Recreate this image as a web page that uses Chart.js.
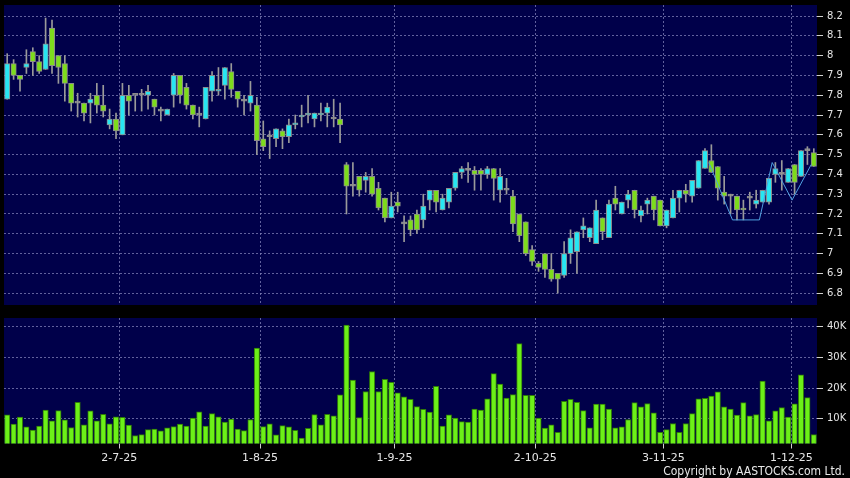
<!DOCTYPE html>
<html>
<head>
<meta charset="utf-8">
<script src="https://cdn.jsdelivr.net/npm/chart.js@4.4.1/dist/chart.umd.min.js"></script>
<style>
  html, body { margin: 0; padding: 0; background: #000; }
  #wrap { position: relative; width: 850px; height: 478px; overflow: hidden; background: #000; }
  #priceBox { position: absolute; left: 0; top: 0; width: 850px; height: 310px; }
  #volBox { position: absolute; left: 0; top: 310px; width: 850px; height: 156px; }
  #copy { position: absolute; right: 5px; top: 464px; font: 12px "Liberation Sans Narrow", "DejaVu Sans Condensed", sans-serif; color: #e8e8e8; }
</style>
</head>
<body>
<div id="wrap">
  <div id="priceBox"><canvas id="priceChart"></canvas></div>
  <div id="volBox"><canvas id="volChart"></canvas></div>
  <div id="copy">Copyright by AASTOCKS.com Ltd.</div>
</div>
<script>
// trading days, 5 Jun 2025 - 4 Dec 2025
const dates = [
  '5-6-25','6-6-25','9-6-25','10-6-25','11-6-25','12-6-25','13-6-25','16-6-25','17-6-25','18-6-25',
  '19-6-25','20-6-25','23-6-25','24-6-25','25-6-25','26-6-25','27-6-25','30-6-25',
  '2-7-25','3-7-25','4-7-25','7-7-25','8-7-25','9-7-25','10-7-25','11-7-25','14-7-25','15-7-25',
  '16-7-25','17-7-25','18-7-25','21-7-25','22-7-25','23-7-25','24-7-25','25-7-25','28-7-25','29-7-25',
  '30-7-25','31-7-25',
  '1-8-25','4-8-25','5-8-25','6-8-25','7-8-25','8-8-25','11-8-25','12-8-25','13-8-25','14-8-25',
  '15-8-25','18-8-25','19-8-25','20-8-25','21-8-25','22-8-25','25-8-25','26-8-25','27-8-25','28-8-25',
  '29-8-25',
  '1-9-25','2-9-25','3-9-25','4-9-25','5-9-25','8-9-25','9-9-25','10-9-25','11-9-25','12-9-25',
  '15-9-25','16-9-25','17-9-25','18-9-25','19-9-25','22-9-25','23-9-25','24-9-25','25-9-25','26-9-25',
  '29-9-25','30-9-25',
  '2-10-25','3-10-25','6-10-25','8-10-25','9-10-25','10-10-25','13-10-25','14-10-25','15-10-25','16-10-25',
  '17-10-25','20-10-25','21-10-25','22-10-25','23-10-25','24-10-25','27-10-25','28-10-25','30-10-25','31-10-25',
  '3-11-25','4-11-25','5-11-25','6-11-25','7-11-25','10-11-25','11-11-25','12-11-25','13-11-25','14-11-25',
  '17-11-25','18-11-25','19-11-25','20-11-25','21-11-25','24-11-25','25-11-25','26-11-25','27-11-25','28-11-25',
  '1-12-25','2-12-25','3-12-25','4-12-25'
];

const open = [
  7.78,7.96,7.90,7.94,8.02,7.97,7.93,8.14,8.00,7.96,
  7.86,7.76,7.76,7.76,7.80,7.75,7.65,7.68,7.60,7.80,
  7.80,7.80,7.80,7.78,7.72,7.70,7.80,7.90,7.84,7.75,
  7.70,7.68,7.82,7.82,7.85,7.92,7.82,7.77,7.76,7.75,
  7.58,7.59,7.58,7.62,7.59,7.65,7.69,7.70,7.68,7.70,
  7.71,7.68,7.68,7.45,7.34,7.39,7.37,7.39,7.33,7.28,
  7.18,7.26,7.15,7.17,7.20,7.17,7.27,7.32,7.22,7.26,
  7.33,7.41,7.42,7.42,7.42,7.40,7.43,7.32,7.32,7.29,
  7.20,7.16,7.02,6.95,7.00,6.92,6.90,6.89,7.00,7.01,
  7.12,7.08,7.05,7.18,7.08,7.28,7.20,7.27,7.32,7.19,
  7.25,7.29,7.27,7.14,7.18,7.28,7.32,7.29,7.33,7.43,
  7.47,7.44,7.31,7.29,7.29,7.23,7.28,7.25,7.26,7.26,
  7.40,7.40,7.36,7.45,7.39,7.52,7.51
];
const high = [
  8.01,7.98,7.90,8.03,8.04,8.00,8.19,8.18,8.00,8.00,
  7.86,7.81,7.76,7.81,7.86,7.85,7.73,7.71,7.86,7.85,
  7.80,7.83,7.85,7.78,7.74,7.73,7.91,7.90,7.86,7.75,
  7.74,7.84,7.92,7.94,7.94,7.96,7.82,7.80,7.87,7.79,
  7.67,7.62,7.63,7.63,7.68,7.70,7.75,7.80,7.71,7.76,
  7.76,7.78,7.76,7.46,7.46,7.39,7.41,7.43,7.36,7.28,
  7.31,7.31,7.19,7.19,7.22,7.30,7.32,7.32,7.30,7.33,
  7.41,7.44,7.46,7.44,7.43,7.44,7.43,7.43,7.38,7.32,
  7.20,7.16,7.04,6.96,7.00,7.00,6.90,7.06,7.12,7.11,
  7.18,7.13,7.27,7.18,7.27,7.34,7.26,7.32,7.32,7.24,
  7.28,7.29,7.27,7.22,7.32,7.32,7.35,7.37,7.47,7.53,
  7.55,7.44,7.39,7.30,7.29,7.27,7.31,7.32,7.32,7.38,
  7.46,7.47,7.43,7.45,7.52,7.54,7.53
];
const low = [
  7.78,7.88,7.82,7.91,7.90,7.91,7.93,7.91,7.86,7.77,
  7.72,7.69,7.67,7.66,7.71,7.69,7.63,7.58,7.60,7.70,
  7.72,7.72,7.73,7.70,7.67,7.70,7.74,7.76,7.73,7.68,
  7.64,7.68,7.77,7.80,7.78,7.79,7.74,7.70,7.72,7.50,
  7.52,7.48,7.54,7.53,7.56,7.63,7.64,7.66,7.64,7.67,
  7.64,7.64,7.56,7.20,7.29,7.29,7.31,7.29,7.22,7.16,
  7.18,7.21,7.06,7.09,7.10,7.13,7.22,7.21,7.22,7.23,
  7.32,7.38,7.36,7.32,7.32,7.38,7.27,7.26,7.30,7.11,
  7.06,6.99,6.94,6.91,6.88,6.86,6.80,6.88,6.95,6.90,
  7.08,7.06,7.05,7.07,7.08,7.22,7.20,7.23,7.18,7.16,
  7.20,7.17,7.14,7.13,7.18,7.21,7.26,7.26,7.33,7.43,
  7.41,7.27,7.25,7.20,7.17,7.17,7.22,7.23,7.26,7.25,
  7.36,7.32,7.36,7.30,7.39,7.45,7.44
];
const close = [
  7.96,7.90,7.88,7.96,7.97,7.92,8.06,7.95,7.94,7.86,
  7.76,7.76,7.71,7.78,7.75,7.72,7.68,7.62,7.80,7.77,
  7.80,7.80,7.82,7.74,7.72,7.73,7.90,7.80,7.75,7.70,
  7.70,7.84,7.90,7.83,7.94,7.83,7.78,7.77,7.80,7.57,
  7.54,7.59,7.63,7.59,7.65,7.66,7.70,7.71,7.71,7.71,
  7.74,7.68,7.65,7.34,7.34,7.32,7.39,7.30,7.23,7.18,
  7.24,7.24,7.15,7.12,7.12,7.24,7.32,7.26,7.28,7.33,
  7.41,7.43,7.42,7.40,7.40,7.43,7.38,7.39,7.32,7.15,
  7.09,7.00,6.96,6.93,6.92,6.87,6.87,7.00,7.08,7.11,
  7.14,7.13,7.22,7.11,7.25,7.25,7.26,7.30,7.22,7.22,
  7.27,7.22,7.14,7.22,7.28,7.32,7.30,7.37,7.47,7.52,
  7.41,7.33,7.29,7.29,7.22,7.22,7.28,7.27,7.32,7.38,
  7.43,7.40,7.43,7.36,7.52,7.52,7.44
];
// volume in thousands of shares
const volume = [
  11.3,8.3,10.6,7.4,6.4,7.7,12.9,9.4,12.7,9.7,
  7.2,15.4,8.1,12.6,9.4,11.5,8.4,10.7,10.5,8.0,
  4.6,4.9,6.5,6.7,6.1,7.1,7.5,8.3,7.7,10.3,
  12.3,7.7,11.7,10.7,9.0,9.9,6.7,6.2,9.8,33.0,
  7.5,8.4,4.8,7.8,7.4,6.3,3.8,6.9,11.4,8.1,
  11.5,11.0,17.8,40.5,22.6,10.4,18.9,25.4,18.9,22.9,
  21.9,18.5,17.2,16.4,14.0,13.1,12.2,20.6,7.7,11.3,
  10.3,9.1,9.0,13.2,12.9,16.5,24.7,21.3,16.8,17.9,
  34.5,17.7,17.7,10.3,7.0,8.1,5.6,15.7,16.4,15.4,
  12.7,7.1,14.8,14.8,13.2,7.1,7.4,9.8,15.3,13.9,
  15.0,12.0,5.6,6.5,8.5,5.6,8.5,11.7,16.5,16.7,
  17.4,18.8,13.9,13.2,11.2,15.3,11.0,11.4,22.3,9.4,
  12.6,13.7,10.6,14.9,24.3,16.9,4.9
];

// pattern line drawn over the last weeks (x in trading-day units)
const patternX = [109.6, 113.3, 117.5, 119.5, 122.6, 125.6];
const patternY = [7.46, 7.17, 7.17, 7.46, 7.27, 7.45];

const tickLabels = ['2-7-25', '1-8-25', '1-9-25', '2-10-25', '3-11-25', '1-12-25'];
const priceTicks = [6.8, 6.9, 7.0, 7.1, 7.2, 7.3, 7.4, 7.5, 7.6, 7.7, 7.8, 7.9, 8.0, 8.1, 8.2];
const volumeTicks = [10, 20, 30, 40];

const upColor = '#27e6f2';
const downColor = '#7ddc1c';
const flatColor = '#9a9a9a';
const gridColor = 'rgba(130,130,185,0.75)';
const labelFont = { family: 'DejaVu Sans', size: 10 };

const plotBg = {
  id: 'plotBg',
  beforeDraw(chart) {
    const { ctx, chartArea: a } = chart;
    ctx.save();
    ctx.fillStyle = '#00004a';
    ctx.fillRect(a.left, a.top, a.right - a.left, a.bottom - a.top);
    ctx.restore();
  }
};

function xAxis(showLabels) {
  return {
    type: 'linear',
    min: -0.5,
    max: dates.length - 0.5,
    offset: false,
    afterBuildTicks: s => { s.ticks = tickLabels.map(l => ({ value: dates.indexOf(l) - 0.5 })); },
    afterFit: s => {
      s.height = showLabels ? 22.5 : 0;
      s.paddingLeft = 0;
      s.paddingRight = 0;
    },
    grid: { offset: false, color: gridColor, drawTicks: showLabels, tickLength: 5, tickColor: '#cfcfcf', tickBorderDash: [] },
    border: { display: false, dash: [2, 2] },
    ticks: {
      display: showLabels, autoSkip: false, maxRotation: 0, padding: 3,
      color: '#e6e6e6', font: { family: 'DejaVu Sans', size: 11 },
      callback: (v, i) => tickLabels[i]
    }
  };
}

function yAxis(min, max, tickList, fmt) {
  return {
    position: 'right',
    min: min,
    max: max,
    afterBuildTicks: s => { s.ticks = tickList.map(v => ({ value: v })); },
    afterFit: s => {
      s.width = 33;
      s.paddingTop = 0;
      s.paddingBottom = 0;
    },
    grid: { color: gridColor, drawTicks: true, tickLength: 6, tickColor: '#d0d0d0', tickBorderDash: [] },
    border: { display: false, dash: [2, 2] },
    ticks: { padding: 4, color: '#e6e6e6', font: labelFont, callback: fmt }
  };
}

const idx = dates.map((d, i) => i);
const bodyColors = idx.map(i => close[i] > open[i] ? upColor : (close[i] < open[i] ? downColor : flatColor));

new Chart(document.getElementById('priceChart'), {
  type: 'bar',
  data: {
    datasets: [
      {
        type: 'line',
        label: 'Pattern',
        data: patternX.map((x, i) => ({ x: x, y: patternY[i] })),
        borderColor: '#4f9fe0',
        borderWidth: 1,
        pointRadius: 0,
        order: 0
      },
      {
        label: 'Body',
        data: idx.map(i => ({ x: i, y: [open[i], close[i]] })),
        backgroundColor: bodyColors,
        borderColor: '#8c8c8c',
        borderWidth: 1,
        borderSkipped: false,
        barThickness: 5.4,
        minBarLength: 2,
        grouped: false,
        order: 1
      },
      {
        label: 'Range',
        data: idx.map(i => ({ x: i, y: [low[i], high[i]] })),
        backgroundColor: '#9a9a9a',
        borderWidth: 0,
        barThickness: 1,
        grouped: false,
        order: 2
      }
    ]
  },
  options: {
    responsive: true,
    maintainAspectRatio: false,
    animation: false,
    layout: { padding: { left: 4, top: 5, right: 0, bottom: 5 } },
    plugins: { legend: { display: false }, tooltip: { enabled: false } },
    scales: {
      x: xAxis(false),
      y: yAxis(6.74, 8.256, priceTicks, v => String(+v.toFixed(1)))
    }
  },
  plugins: [plotBg]
});

new Chart(document.getElementById('volChart'), {
  type: 'bar',
  data: {
    datasets: [{
      label: 'Volume',
      data: idx.map(i => ({ x: i, y: volume[i] })),
      backgroundColor: '#6cf018',
      borderColor: '#2f7a08',
      borderWidth: 1,
      borderSkipped: false,
      barThickness: 5.4
    }]
  },
  options: {
    responsive: true,
    maintainAspectRatio: false,
    animation: false,
    layout: { padding: { left: 4, top: 8, right: 0, bottom: 0 } },
    plugins: { legend: { display: false }, tooltip: { enabled: false } },
    scales: {
      x: xAxis(true),
      y: yAxis(2, 42.8, volumeTicks, v => v + 'K')
    }
  },
  plugins: [plotBg]
});
</script>
</body>
</html>
